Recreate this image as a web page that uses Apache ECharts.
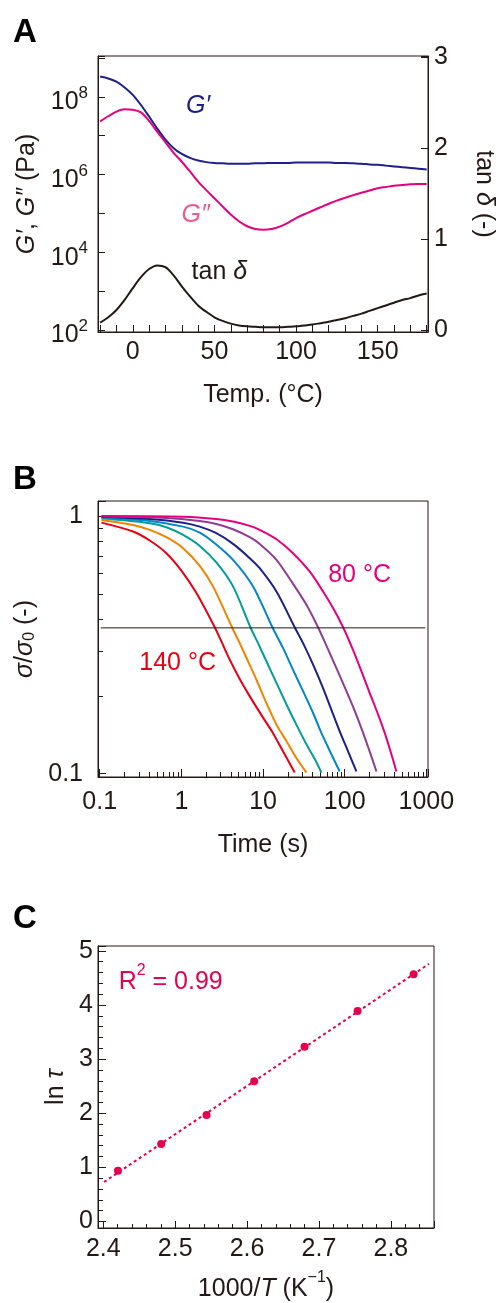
<!DOCTYPE html>
<html>
<head>
<meta charset="utf-8">
<title>Viscoelastic data</title>
<script src="https://cdn.jsdelivr.net/npm/echarts@6/dist/echarts.min.js"></script>
<style>
  html, body { margin: 0; padding: 0; background: #fff; }
  #chart { width: 496px; height: 1303px; }
</style>
</head>
<body>
<div id="chart"></div>
<script>
// ---------- panel A : temperature sweep ----------
var tempA = [-20, -15, -10, -5, 0, 5, 10, 15, 20, 25, 30, 35, 40, 45, 50, 55, 60, 65, 70, 75, 80, 85, 90, 95,
             100, 105, 110, 115, 120, 125, 130, 135, 140, 145, 150, 155, 160, 165, 170, 175, 180];
// log10 of the moduli in Pa
var gPrimeExp = [8.52, 8.47, 8.39, 8.24, 8.05, 7.79, 7.49, 7.18, 6.90, 6.68, 6.53, 6.43, 6.36, 6.32, 6.30, 6.29,
                 6.28, 6.28, 6.28, 6.29, 6.29, 6.30, 6.30, 6.30, 6.31, 6.31, 6.31, 6.31, 6.31, 6.30, 6.30, 6.29,
                 6.28, 6.26, 6.25, 6.23, 6.21, 6.19, 6.17, 6.15, 6.13];
var gDoublePrimeExp = [7.37, 7.50, 7.62, 7.68, 7.67, 7.60, 7.38, 7.10, 6.83, 6.56, 6.33, 6.08, 5.82, 5.60, 5.39,
                       5.18, 4.97, 4.80, 4.67, 4.60, 4.58, 4.60, 4.66, 4.76, 4.88, 4.98, 5.07, 5.16, 5.25, 5.33,
                       5.40, 5.47, 5.53, 5.59, 5.65, 5.68, 5.71, 5.73, 5.75, 5.76, 5.76];
var tanDelta = [0.08, 0.14, 0.22, 0.33, 0.46, 0.58, 0.67, 0.71, 0.69, 0.60, 0.48, 0.37, 0.27, 0.20, 0.14, 0.10,
                0.07, 0.05, 0.04, 0.035, 0.03, 0.03, 0.03, 0.035, 0.04, 0.05, 0.06, 0.075, 0.09, 0.11, 0.13,
                0.155, 0.18, 0.21, 0.24, 0.27, 0.30, 0.33, 0.35, 0.38, 0.40];

// ---------- panel B : stress relaxation [time (s), sigma/sigma0] ----------
var relax140 = [[0.105, 0.942], [0.256, 0.87], [0.41, 0.803], [0.655, 0.717], [1.0, 0.614], [1.53, 0.502],
                [2.56, 0.37], [3.09, 0.326], [3.91, 0.277], [5.18, 0.233], [6.86, 0.2], [10, 0.165],
                [13.2, 0.144], [17.6, 0.122], [24.4, 0.101]];
var relax130 = [[0.105, 0.965], [0.256, 0.923], [0.41, 0.883], [0.655, 0.827], [1.05, 0.75], [1.68, 0.64],
                [2.44, 0.533], [4.17, 0.37], [5.18, 0.321], [6.55, 0.273], [8.28, 0.232], [11, 0.188],
                [14.6, 0.155], [19.3, 0.134], [25.6, 0.115], [34, 0.101]];
var relax120 = [[0.105, 0.979], [0.41, 0.937], [0.655, 0.904], [1.05, 0.844], [1.68, 0.765], [2.68, 0.66],
                [4.29, 0.533], [7.0, 0.37], [8.69, 0.321], [11, 0.273], [14.6, 0.225], [19.3, 0.186],
                [25.6, 0.155], [34, 0.13], [43, 0.114], [51.8, 0.101]];
var relax110 = [[0.105, 0.988], [0.41, 0.956], [1.05, 0.909], [1.68, 0.862], [2.56, 0.784], [4.29, 0.676],
                [7.55, 0.533], [13.0, 0.37], [17.6, 0.307], [23.3, 0.253], [30.9, 0.209], [41, 0.172],
                [51.8, 0.144], [68.7, 0.119], [86.9, 0.102]];
var relax100 = [[0.105, 0.994], [0.41, 0.974], [1.05, 0.942], [1.68, 0.909], [2.68, 0.857], [4.29, 0.779],
                [6.87, 0.686], [9.1, 0.627], [14.6, 0.509], [24.4, 0.37], [30.9, 0.321], [41, 0.265],
                [54.3, 0.215], [68.7, 0.177], [86.9, 0.146], [110, 0.122], [139, 0.102]];
var relax90 = [[0.105, 0.997], [0.655, 0.982], [1.68, 0.956], [2.68, 0.931], [4.29, 0.888], [6.87, 0.827],
               [9.1, 0.779], [14.6, 0.676], [23.3, 0.545], [34, 0.452], [47.1, 0.37], [59.7, 0.314],
               [79.1, 0.257], [105, 0.209], [133, 0.175], [168, 0.144], [202, 0.122], [245, 0.102]];
var relax80 = [[0.105, 1.0], [1.05, 0.994], [2.68, 0.974], [4.29, 0.951], [6.87, 0.915], [9.1, 0.883],
               [14.6, 0.812], [23.3, 0.717], [37.2, 0.609], [54.3, 0.509], [72, 0.439], [95.5, 0.37],
               [126, 0.303], [160, 0.25], [202, 0.206], [256, 0.17], [309, 0.144], [373, 0.119], [429, 0.102]];
var relaxCurves = [relax140, relax130, relax120, relax110, relax100, relax90, relax80];
var relaxColors = ['#e60012', '#f08300', '#009e96', '#0086cc', '#1d2088', '#8e3e91', '#e4007f'];
var invE = 0.368;                     // sigma/sigma0 = 1/e guide line
var guideTimes = [0.103, 972];
var minorTimeTicks = [0.2, 0.3, 0.4, 0.5, 0.6, 0.7, 0.8, 0.9, 2, 3, 4, 5, 6, 7, 8, 9,
                      20, 30, 40, 50, 60, 70, 80, 90, 200, 300, 400, 500, 600, 700, 800, 900];
var minorRatioTicks = [0.2, 0.3, 0.4, 0.5, 0.6, 0.7, 0.8, 0.9];

// ---------- panel C : Arrhenius plot ----------
var invT = [2.4204, 2.4805, 2.5436, 2.6099, 2.6799, 2.7537, 2.8317];
var lnTau = [0.94, 1.43, 1.97, 2.59, 3.23, 3.89, 4.57];
var fitX = [2.401, 2.853];
var fitY = [0.73, 4.76];

var INK = '#231815';
var FONT = '"Liberation Sans", Arial, Helvetica, sans-serif';
var PINK = '#e4007f';
var NAVY = '#1d2088';
var CRIMSON = '#e5004f';

function rich(color) {
  return {
    n: { fontSize: 25, fontFamily: FONT, color: color, lineHeight: 32, verticalAlign: 'bottom' },
    i: { fontSize: 25, fontFamily: FONT, color: color, fontStyle: 'italic', lineHeight: 32, verticalAlign: 'bottom' },
    s: { fontSize: 16, fontFamily: FONT, color: color, verticalAlign: 'top' },
    sub: { fontSize: 16, fontFamily: FONT, color: color, verticalAlign: 'bottom' }
  };
}

function axisLine() { return { show: true, onZero: false, lineStyle: { color: INK, width: 1 } }; }
function tickLabel(margin, formatter) {
  return { fontSize: 25, fontFamily: FONT, color: INK, margin: margin, formatter: formatter };
}
function nearMultiple(v, step) {
  var r = Math.round(v / step) * step;
  return Math.abs(v - r) < 1e-6 ? r : null;
}

// text placed in data coordinates
function note(xi, yi, pos, text, color, extra) {
  return {
    type: 'scatter', xAxisIndex: xi, yAxisIndex: yi, silent: true, symbolSize: 1,
    itemStyle: { color: 'rgba(0,0,0,0)', opacity: 1 }, z: 5,
    data: [{ value: pos }],
    label: Object.assign({ show: true, position: 'inside', formatter: text, rich: rich(color),
      textBorderWidth: 0, opacity: 1 }, extra || {})
  };
}

// short minor ticks drawn through the axes' own scales
function minorTicks(xi, yi, dir, values, len) {
  return {
    type: 'custom', xAxisIndex: xi, yAxisIndex: yi, silent: true, clip: false,
    data: values.map(function (v) { return dir === 'x' ? [v, 0.5] : [1, v]; }),
    renderItem: function (params, api) {
      var cs = params.coordSys;
      var p = api.coord([api.value(0), api.value(1)]);
      var shape;
      if (dir === 'x') {
        var x = Math.round(p[0]) + 0.5, yb = cs.y + cs.height;
        shape = { x1: x, y1: yb, x2: x, y2: yb - len };
      } else {
        var y = Math.round(p[1]) + 0.5;
        shape = { x1: cs.x, y1: y, x2: cs.x + len, y2: y };
      }
      return { type: 'line', shape: shape, style: { stroke: INK, lineWidth: 1 } };
    }
  };
}

var panelTitle = function (txt, top) {
  return { text: txt, left: 13, top: top, padding: 0,
    textStyle: { fontSize: 33, fontWeight: 'bold', fontFamily: FONT, color: '#000' } };
};

function frame(left, top, width, height) {
  return { left: left, top: top, width: width, height: height, show: true,
    borderColor: INK, borderWidth: 1, containLabel: false, outerBoundsMode: 'none' };
}

var series = [];
// A
series.push({ type: 'line', xAxisIndex: 0, yAxisIndex: 0, symbol: 'none', smooth: 0.3,
  lineStyle: { color: NAVY, width: 2 },
  data: tempA.map(function (t, i) { return [t, Math.pow(10, gPrimeExp[i])]; }) });
series.push({ type: 'line', xAxisIndex: 0, yAxisIndex: 0, symbol: 'none', smooth: 0.3,
  lineStyle: { color: PINK, width: 2 },
  data: tempA.map(function (t, i) { return [t, Math.pow(10, gDoublePrimeExp[i])]; }) });
series.push({ type: 'line', xAxisIndex: 0, yAxisIndex: 1, symbol: 'none', smooth: 0.3,
  lineStyle: { color: INK, width: 2 },
  data: tempA.map(function (t, i) { return [t, tanDelta[i]]; }) });
series.push(note(0, 0, [40, 7e7], '{i|G′}', NAVY));
series.push(note(0, 0, [38.5, 1.1e5], '{i|G″}', '#ef5a8c'));
series.push(note(0, 1, [53, 0.68], '{n|tan }{i|δ}', INK));

// B
relaxCurves.forEach(function (c, k) {
  series.push({ type: 'line', xAxisIndex: 1, yAxisIndex: 2, symbol: 'none', smooth: 0.3,
    lineStyle: { color: relaxColors[k], width: 2 }, data: c });
});
series.push({ type: 'line', xAxisIndex: 1, yAxisIndex: 2, symbol: 'none',
  lineStyle: { color: INK, width: 1 },
  data: [[guideTimes[0], invE], [guideTimes[1], invE]] });
series.push(minorTicks(1, 2, 'x', minorTimeTicks, 5));
series.push(minorTicks(1, 2, 'y', minorRatioTicks, 5));
series.push(note(1, 2, [152, 0.607], '{n|80 °C}', PINK));
series.push(note(1, 2, [0.9, 0.277], '{n|140 °C}', '#e60012'));

// C
series.push({ type: 'line', xAxisIndex: 2, yAxisIndex: 3, symbol: 'none',
  lineStyle: { color: CRIMSON, width: 2, type: [3, 3] },
  data: [[fitX[0], fitY[0]], [fitX[1], fitY[1]]] });
series.push({ type: 'scatter', xAxisIndex: 2, yAxisIndex: 3, symbol: 'circle', symbolSize: 8,
  itemStyle: { color: CRIMSON, opacity: 1 }, z: 4,
  data: invT.map(function (x, i) { return [x, lnTau[i]]; }) });
series.push(note(2, 3, [2.4206, 4.49], '{n|R}{s|2}{n| = 0.99}', CRIMSON,
  { position: 'right', distance: 0 }));

var option = {
  animation: false,
  backgroundColor: '#fff',
  title: [panelTitle('A', 16), panelTitle('B', 463), panelTitle('C', 902)],
  grid: [frame(98, 56, 330, 276), frame(98, 501, 330, 276), frame(98, 946, 336, 282)],
  xAxis: [
    { gridIndex: 0, type: 'value', min: -21.3, max: 180.8, splitNumber: 20,
      axisLine: axisLine(), splitLine: { show: false },
      axisTick: { inside: true, length: 7, lineStyle: { color: INK } },
      axisLabel: tickLabel(8, function (v) { var r = nearMultiple(v, 50); return r === null ? '' : String(r); }),
      name: '{n|Temp. (°C)}', nameLocation: 'middle', nameGap: 44,
      nameTextStyle: { rich: rich(INK) } },
    { gridIndex: 1, type: 'log', logBase: 10, min: 0.0953, max: 1047,
      axisLine: axisLine(), splitLine: { show: false },
      axisTick: { inside: true, length: 8, lineStyle: { color: INK } },
      axisLabel: tickLabel(13, function (v) {
        var e = Math.log10(v), r = Math.round(e);
        if (Math.abs(e - r) > 1e-6) return '';
        return r < 0 ? '0.1' : String(Math.pow(10, r));
      }),
      name: '{n|Time (s)}', nameLocation: 'middle', nameGap: 49,
      nameTextStyle: { rich: rich(INK) } },
    { gridIndex: 2, type: 'value', min: 2.3926, max: 2.86, splitNumber: 5,
      axisLine: axisLine(), splitLine: { show: false },
      axisTick: { inside: true, length: 7, lineStyle: { color: INK } },
      minorTick: { show: true, splitNumber: 5, length: 4, lineStyle: { color: INK } },
      axisLabel: tickLabel(9, function (v) { var r = nearMultiple(v, 0.1); return r === null ? '' : r.toFixed(1); }),
      name: '{n|1000/}{i|T}{n| (K}{s|−1}{n|)}', nameLocation: 'middle', nameGap: 42,
      nameTextStyle: { rich: rich(INK) } }
  ],
  yAxis: [
    { gridIndex: 0, type: 'log', logBase: 10, min: Math.pow(10, 1.95), max: Math.pow(10, 9.05),
      axisLine: axisLine(), splitLine: { show: false },
      axisTick: { inside: true, length: 7, lineStyle: { color: INK } },
      axisLabel: { margin: 10, padding: [6, 0, 0, 0],
        formatter: function (v) {
          var e = Math.log10(v), r = Math.round(e);
          if (Math.abs(e - r) > 1e-6 || r % 2) return '';
          return '{b|10}{s|' + r + '}';
        },
        rich: {
          b: { fontSize: 25, fontFamily: FONT, color: INK, lineHeight: 30, verticalAlign: 'bottom' },
          s: { fontSize: 17, fontFamily: FONT, color: INK, verticalAlign: 'top' }
        } },
      name: '{i|G′}{n|, }{i|G″}{n| (Pa)}', nameLocation: 'middle', nameGap: 57, nameRotate: 90,
      nameTextStyle: { rich: rich(INK) } },
    { gridIndex: 0, type: 'value', position: 'right', min: -0.022, max: 3.011, splitNumber: 3,
      axisLine: axisLine(), splitLine: { show: false },
      axisTick: { inside: true, length: 7, lineStyle: { color: INK } },
      axisLabel: tickLabel(6, function (v) { var r = nearMultiple(v, 1); return r === null ? '' : String(r); }),
      name: '{n|tan }{i|δ}{n| (-)}', nameLocation: 'middle', nameGap: 43, nameRotate: -90,
      nameTextStyle: { rich: rich(INK) } },
    { gridIndex: 1, type: 'log', logBase: 10, min: 0.0971, max: 1.143,
      axisLine: axisLine(), splitLine: { show: false },
      axisTick: { inside: true, length: 8, lineStyle: { color: INK } },
      axisLabel: tickLabel(15, function (v) {
        var e = Math.log10(v), r = Math.round(e);
        if (Math.abs(e - r) > 1e-6) return '';
        return r < 0 ? '0.1' : '1';
      }),
      name: '{i|σ}{n|/}{i|σ}{sub|0}{n| (-)}', nameLocation: 'middle', nameGap: 46, nameRotate: 90,
      nameTextStyle: { rich: rich(INK) } },
    { gridIndex: 2, type: 'value', min: -0.12, max: 5.09, splitNumber: 5,
      axisLine: axisLine(), splitLine: { show: false },
      axisTick: { inside: true, length: 8, lineStyle: { color: INK } },
      minorTick: { show: true, splitNumber: 5, length: 5, lineStyle: { color: INK } },
      axisLabel: tickLabel(5, function (v) { var r = nearMultiple(v, 1); return r === null ? '' : String(r); }),
      name: '{n|ln }{i|τ}', nameLocation: 'middle', nameGap: 26, nameRotate: 90,
      nameTextStyle: { rich: rich(INK) } }
  ],
  series: series
};

var chart = echarts.init(document.getElementById('chart'));
chart.setOption(option);
</script>
</body>
</html>
